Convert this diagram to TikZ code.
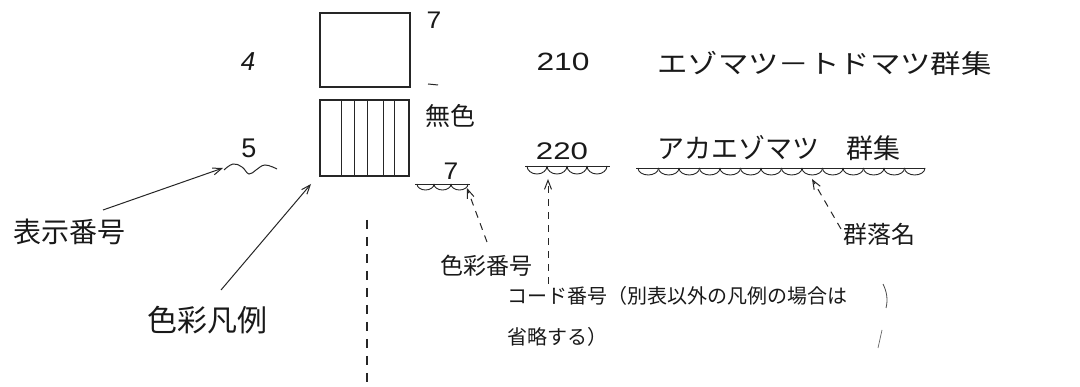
\documentclass[tikz,border=0pt]{standalone}
\usepackage{fontspec}
\setmainfont{Liberation Sans}
\newfontfamily\jp{Noto Sans CJK JP}
\usetikzlibrary{arrows.meta}
\begin{document}
\begin{tikzpicture}[x=1pt,y=-1pt,
  ink/.style={draw=black!85, line width=1.1pt},
  jl/.style={inner sep=0pt, text=black!90},
  num/.style={inner sep=0pt, text=black!90, font=\fontsize{24}{26}\selectfont},
  arr/.style={draw=black!85, line width=1pt, -{Straight Barb[length=9pt,width=7pt]}},
  darr/.style={draw=black!85, line width=1pt, dash pattern=on 7pt off 6pt, -{Straight Barb[length=9pt,width=7pt]}},
  dline/.style={draw=black!85, line width=1.2pt, dash pattern=on 9pt off 8pt}]
\useasboundingbox[fill=white] (0,0) rectangle (1080,387);

% legend boxes
\node[ink, minimum width=90pt, minimum height=74pt, inner sep=0pt] (boxA) at (365,50) {};
\node[ink, minimum width=89pt, minimum height=76pt, inner sep=0pt] (boxB) at (364.5,138) {};
\foreach \xx in {341,354,367,383,394} \draw[ink, line width=1pt] (\xx,100) -- (\xx,176);

% numbers and labels near boxes
\node[num, font=\fontsize{26}{28}\selectfont\itshape] (n4) at (248,62) {4};
\node[num, font=\fontsize{24}{26}\selectfont] (n7a) at (434,20) {\scalebox{1.1}[1]{7}};
\draw[ink, line width=1pt] (428,84) -- (438,85);
\node[jl, font=\jp\fontsize{25}{28}\selectfont] (mushoku) at (450,116) {無色};
\node[num, font=\fontsize{27}{28}\selectfont] (n5) at (249,148) {5};
\node[num, font=\fontsize{24}{26}\selectfont] (n7b) at (451,171) {\scalebox{1.1}[1]{7}};

% right side
\node[num, font=\fontsize{25}{28}\selectfont] (n210) at (563,62) {\scalebox{1.27}[1]{210}};
\node[jl, anchor=west, font=\jp\fontsize{26}{28}\selectfont] (ezo) at (657,63) {\scalebox{1.17}[1]{エゾマツ－トドマツ群集}};
\node[num, font=\fontsize{24}{28}\selectfont] (n220) at (562,151) {\scalebox{1.3}[1]{220}};
\node[jl, anchor=west, font=\jp\fontsize{27}{28}\selectfont] (aka) at (657,148) {アカエゾマツ　群集};

% wavy underlines
\draw[ink, line width=1pt] plot[smooth, tension=0.7] coordinates {(224,170) (233,164) (242,167) (249,174) (256,170) (265,165) (277,169)};
\draw[ink, line width=0.9pt] (415,184) -- (470,184);
\foreach \i in {0,1,2} \draw[ink, line width=0.9pt] (417+\i*17,184) arc[start angle=180, end angle=0, x radius=8.5, y radius=6];
\draw[ink, line width=0.9pt] (525,166) -- (610,166);
\foreach \i in {0,...,3} \draw[ink, line width=0.9pt] (527+\i*20,166) arc[start angle=180, end angle=0, x radius=10, y radius=8];
\draw[ink, line width=0.9pt] (636,168) -- (925,168);
\foreach \i in {0,...,13} \draw[ink, line width=0.9pt] (638+\i*20.5,168) arc[start angle=180, end angle=0, x radius=10.25, y radius=7];

% bottom labels
\node[jl, anchor=west, font=\jp\fontsize{28}{30}\selectfont] (hyoji) at (13,232) {表示番号};
\node[jl, anchor=west, font=\jp\fontsize{30}{32}\selectfont] (hanrei) at (147,320) {色彩凡例};
\node[jl, anchor=west, font=\jp\fontsize{23}{26}\selectfont] (shikisai) at (440,266) {色彩番号};
\node[jl, anchor=west, font=\jp\fontsize{24}{26}\selectfont] (gunraku) at (843,234) {群落名};
\node[jl, anchor=west, font=\jp\fontsize{20}{24}\selectfont] (code1) at (507,296) {コード番号（別表以外の凡例の場合は};
\node[jl, anchor=west, font=\jp\fontsize{20}{24}\selectfont] (code2) at (507,337) {省略する）};

% connector end points
\coordinate (t5) at (223,168);
\coordinate (tB) at (311,184);
\coordinate (t7) at (467,188);
\coordinate (t220) at (548,179);
\coordinate (taka) at (812,179);
\coordinate (s1) at (103,210);
\coordinate (s2) at (221,290);
\coordinate (s3) at (487,242);
\coordinate (s4) at (548,284);
\coordinate (s5) at (841,229);
\coordinate (v1) at (367,220);
\coordinate (v2) at (367,387);

\draw[arr] (s1) -- (t5);
\draw[arr] (s2) -- (tB);
\draw[darr] (s3) -- (t7);
\draw[darr] (s4) -- (t220);
\draw[darr] (s5) -- (taka);
\draw[dline] (v1) -- (v2);

% stray hand marks
\draw[black!70, line width=0.8pt] (883,284) .. controls (887,292) and (888,300) .. (886,308);
\draw[black!60, line width=0.7pt] (882,330) -- (878,348);
\end{tikzpicture}
\end{document}
